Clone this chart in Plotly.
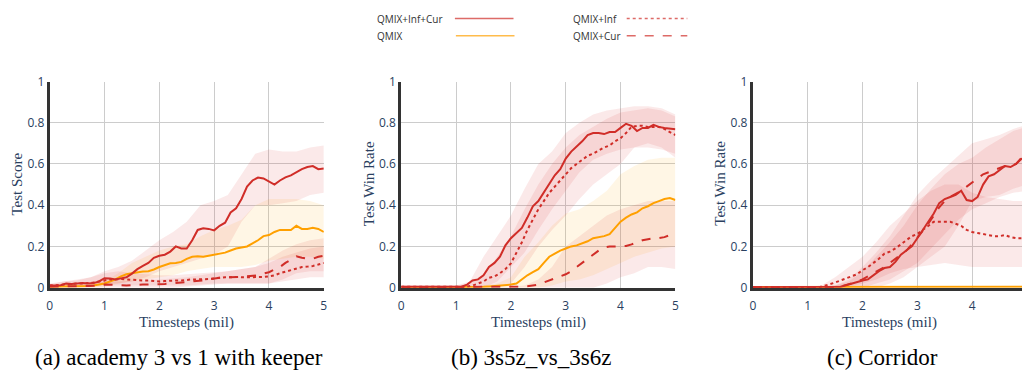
import numpy as np
import plotly.graph_objects as go

# ---------------- data ----------------
X = [round(0.1 * i, 1) for i in range(51)]          # timesteps (mil), mean curves
XB = [round(0.25 * i, 2) for i in range(21)]        # timesteps (mil), band edges

SERIES = ["QMIX+Inf+Cur", "QMIX", "QMIX+Inf", "QMIX+Cur"]
PANEL_TITLES = ["(a) academy 3 vs 1 with keeper", "(b) 3s5z_vs_3s6z", "(c) Corridor"]
Y_TITLES = ["Test Score", "Test Win Rate", "Test Win Rate"]
X_TITLE = "Timesteps (mil)"
Y_TICKS = [0, 0.2, 0.4, 0.6, 0.8, 1]
X_TICKS = [0, 1, 2, 3, 4, 5]

# ---- panel (a) academy 3 vs 1 with keeper ----
A_infcur = [0.01, 0.01, 0.012, 0.02, 0.018, 0.02, 0.022, 0.02, 0.022, 0.03,
            0.046, 0.045, 0.04, 0.045, 0.05, 0.068, 0.09, 0.106, 0.12, 0.145,
            0.155, 0.16, 0.175, 0.2, 0.19, 0.19, 0.23, 0.28, 0.288, 0.285,
            0.278, 0.3, 0.315, 0.365, 0.385, 0.43, 0.49, 0.52, 0.534, 0.53,
            0.515, 0.5, 0.52, 0.535, 0.545, 0.56, 0.575, 0.585, 0.59, 0.575, 0.578]
A_qmix = [0.005, 0.005, 0.005, 0.005, 0.005, 0.006, 0.007, 0.008, 0.01, 0.015,
          0.02, 0.03, 0.04, 0.055, 0.065, 0.07, 0.075, 0.078, 0.08, 0.088,
          0.1, 0.11, 0.118, 0.12, 0.125, 0.14, 0.15, 0.152, 0.15, 0.155,
          0.16, 0.162, 0.17, 0.18, 0.19, 0.195, 0.2, 0.215, 0.23, 0.25,
          0.255, 0.27, 0.28, 0.28, 0.28, 0.3, 0.285, 0.285, 0.29, 0.285, 0.27]
A_inf = [0.01, 0.012, 0.015, 0.018, 0.02, 0.02, 0.02, 0.022, 0.025, 0.03,
         0.035, 0.04, 0.04, 0.042, 0.04, 0.038, 0.035, 0.035, 0.035, 0.032,
         0.03, 0.032, 0.035, 0.035, 0.035, 0.038, 0.04, 0.04, 0.04, 0.042,
         0.045, 0.048, 0.05, 0.05, 0.052, 0.05, 0.05, 0.05, 0.05, 0.052,
         0.055, 0.06, 0.07, 0.078, 0.085, 0.092, 0.1, 0.102, 0.105, 0.112, 0.12]
A_cur = [0.005, 0.005, 0.005, 0.006, 0.006, 0.007, 0.008, 0.008, 0.009, 0.01,
         0.015, 0.015, 0.015, 0.012, 0.01, 0.012, 0.015, 0.015, 0.015, 0.015,
         0.015, 0.018, 0.02, 0.022, 0.025, 0.028, 0.03, 0.032, 0.035, 0.04,
         0.045, 0.048, 0.05, 0.05, 0.05, 0.052, 0.055, 0.058, 0.06, 0.068,
         0.075, 0.088, 0.1, 0.12, 0.135, 0.152, 0.145, 0.14, 0.14, 0.15, 0.155]
A_infcur_hi = [0.015, 0.03, 0.04, 0.05, 0.08, 0.1, 0.13, 0.18, 0.23, 0.27, 0.32,
               0.4, 0.42, 0.45, 0.55, 0.65, 0.67, 0.66, 0.66, 0.68, 0.69]
A_infcur_lo = [0.0, 0.005, 0.01, 0.01, 0.02, 0.02, 0.03, 0.05, 0.08, 0.1, 0.12,
               0.14, 0.16, 0.2, 0.32, 0.4, 0.4, 0.41, 0.42, 0.45, 0.46]
A_qmix_hi = [0.008, 0.01, 0.012, 0.02, 0.03, 0.07, 0.12, 0.15, 0.18, 0.2, 0.21,
             0.25, 0.28, 0.3, 0.33, 0.4, 0.43, 0.43, 0.43, 0.42, 0.4]
A_qmix_lo = [0.0, 0.0, 0.0, 0.0, 0.005, 0.02, 0.03, 0.04, 0.05, 0.06, 0.08,
             0.09, 0.1, 0.1, 0.1, 0.11, 0.13, 0.14, 0.15, 0.15, 0.14]
A_inf_hi = [0.02, 0.03, 0.035, 0.05, 0.07, 0.08, 0.07, 0.065, 0.06, 0.06, 0.065,
            0.07, 0.075, 0.08, 0.09, 0.1, 0.12, 0.15, 0.17, 0.19, 0.2]
A_inf_lo = [0.0, 0.005, 0.005, 0.005, 0.01, 0.01, 0.01, 0.01, 0.01, 0.01, 0.01,
            0.015, 0.02, 0.02, 0.02, 0.02, 0.02, 0.03, 0.04, 0.05, 0.05]
A_cur_hi = [0.01, 0.012, 0.015, 0.015, 0.03, 0.03, 0.035, 0.035, 0.04, 0.045, 0.05,
            0.06, 0.07, 0.08, 0.09, 0.1, 0.14, 0.18, 0.21, 0.23, 0.24]
A_cur_lo = [0.0, 0.0, 0.0, 0.0, 0.0, 0.0, 0.0, 0.0, 0.0, 0.0, 0.005,
            0.01, 0.015, 0.02, 0.02, 0.02, 0.02, 0.04, 0.07, 0.08, 0.08]

# ---- panel (b) 3s5z_vs_3s6z ----
B_infcur = [0.005, 0.005, 0.005, 0.005, 0.005, 0.005, 0.005, 0.005, 0.005, 0.005,
            0.005, 0.005, 0.015, 0.035, 0.04, 0.06, 0.1, 0.12, 0.15, 0.205,
            0.24, 0.265, 0.29, 0.34, 0.395, 0.42, 0.46, 0.5, 0.545, 0.575,
            0.626, 0.66, 0.685, 0.71, 0.74, 0.75, 0.75, 0.745, 0.755, 0.755,
            0.775, 0.795, 0.785, 0.76, 0.775, 0.775, 0.79, 0.78, 0.775, 0.77, 0.768]
B_qmix = [0.002, 0.002, 0.002, 0.002, 0.002, 0.002, 0.002, 0.002, 0.002, 0.002,
          0.002, 0.002, 0.002, 0.002, 0.002, 0.004, 0.006, 0.008, 0.01, 0.012,
          0.015, 0.02, 0.04, 0.06, 0.075, 0.09, 0.12, 0.15, 0.165, 0.18,
          0.19, 0.2, 0.205, 0.215, 0.225, 0.24, 0.245, 0.25, 0.26, 0.29,
          0.32, 0.34, 0.355, 0.365, 0.385, 0.395, 0.41, 0.42, 0.43, 0.435, 0.425]
B_inf = [0.005, 0.005, 0.005, 0.005, 0.005, 0.005, 0.005, 0.005, 0.005, 0.005,
         0.005, 0.005, 0.005, 0.01, 0.02, 0.03, 0.048, 0.055, 0.07, 0.09,
         0.118, 0.17, 0.22, 0.28, 0.33, 0.38, 0.42, 0.46, 0.49, 0.52,
         0.55, 0.58, 0.6, 0.62, 0.64, 0.65, 0.665, 0.68, 0.69, 0.71,
         0.725, 0.75, 0.78, 0.785, 0.785, 0.78, 0.78, 0.78, 0.77, 0.755, 0.74]
B_cur = [0.002, 0.002, 0.002, 0.002, 0.002, 0.002, 0.002, 0.002, 0.002, 0.002,
         0.002, 0.002, 0.002, 0.002, 0.002, 0.002, 0.002, 0.002, 0.002, 0.002,
         0.002, 0.003, 0.005, 0.007, 0.01, 0.015, 0.025, 0.035, 0.045, 0.055,
         0.065, 0.08, 0.1, 0.12, 0.14, 0.16, 0.18, 0.195, 0.2, 0.2,
         0.2, 0.202, 0.21, 0.22, 0.23, 0.235, 0.24, 0.24, 0.245, 0.255, 0.25]
B_infcur_hi = [0.01, 0.01, 0.01, 0.01, 0.01, 0.03, 0.15, 0.25, 0.35, 0.48, 0.6,
               0.66, 0.75, 0.8, 0.84, 0.86, 0.87, 0.88, 0.88, 0.87, 0.84]
B_infcur_lo = [0.0, 0.0, 0.0, 0.0, 0.0, 0.0, 0.0, 0.03, 0.1, 0.17, 0.28,
               0.38, 0.47, 0.56, 0.62, 0.65, 0.67, 0.68, 0.68, 0.67, 0.65]
B_qmix_hi = [0.005, 0.005, 0.005, 0.005, 0.005, 0.005, 0.01, 0.02, 0.05, 0.15, 0.22,
             0.3, 0.36, 0.38, 0.42, 0.47, 0.55, 0.59, 0.62, 0.63, 0.63]
B_qmix_lo = [0.0, 0.0, 0.0, 0.0, 0.0, 0.0, 0.0, 0.0, 0.0, 0.0, 0.0,
             0.01, 0.03, 0.04, 0.06, 0.09, 0.12, 0.15, 0.17, 0.19, 0.2]
B_inf_hi = [0.01, 0.01, 0.01, 0.01, 0.01, 0.02, 0.06, 0.15, 0.25, 0.38, 0.5,
            0.6, 0.68, 0.74, 0.78, 0.82, 0.85, 0.86, 0.87, 0.86, 0.83]
B_inf_lo = [0.0, 0.0, 0.0, 0.0, 0.0, 0.0, 0.0, 0.0, 0.02, 0.1, 0.2,
            0.28, 0.35, 0.43, 0.5, 0.55, 0.6, 0.68, 0.7, 0.68, 0.63]
B_cur_hi = [0.005, 0.005, 0.005, 0.005, 0.005, 0.005, 0.005, 0.005, 0.005, 0.01, 0.04,
            0.1, 0.2, 0.25, 0.3, 0.35, 0.38, 0.4, 0.42, 0.42, 0.42]
B_cur_lo = [0.0, 0.0, 0.0, 0.0, 0.0, 0.0, 0.0, 0.0, 0.0, 0.0, 0.0,
            0.0, 0.0, 0.0, 0.0, 0.02, 0.05, 0.07, 0.1, 0.1, 0.09]

# ---- panel (c) Corridor ----
C_infcur = [0.002, 0.002, 0.002, 0.002, 0.002, 0.002, 0.002, 0.002, 0.002, 0.002,
            0.002, 0.002, 0.002, 0.002, 0.002, 0.002, 0.005, 0.012, 0.02, 0.03,
            0.035, 0.04, 0.06, 0.08, 0.095, 0.1, 0.125, 0.16, 0.18, 0.2,
            0.24, 0.28, 0.32, 0.36, 0.41, 0.43, 0.44, 0.45, 0.47, 0.425,
            0.42, 0.44, 0.5, 0.54, 0.55, 0.57, 0.59, 0.585, 0.6, 0.625, 0.63]
C_qmix = [0.003, 0.003, 0.003, 0.003, 0.003, 0.003, 0.003, 0.003, 0.003, 0.003,
          0.003, 0.003, 0.003, 0.003, 0.003, 0.003, 0.003, 0.003, 0.003, 0.003,
          0.004, 0.004, 0.004, 0.004, 0.004, 0.004, 0.004, 0.004, 0.004, 0.004,
          0.004, 0.004, 0.004, 0.004, 0.004, 0.004, 0.004, 0.004, 0.004, 0.004,
          0.004, 0.004, 0.004, 0.004, 0.004, 0.004, 0.004, 0.004, 0.004, 0.004, 0.004]
C_inf = [0.002, 0.002, 0.002, 0.002, 0.002, 0.002, 0.002, 0.002, 0.002, 0.002,
         0.002, 0.002, 0.002, 0.008, 0.015, 0.025, 0.035, 0.045, 0.055, 0.065,
         0.085, 0.1, 0.12, 0.14, 0.165, 0.175, 0.19, 0.21, 0.23, 0.25,
         0.26, 0.28, 0.3, 0.32, 0.32, 0.32, 0.32, 0.31, 0.3, 0.28,
         0.27, 0.265, 0.26, 0.255, 0.25, 0.25, 0.255, 0.245, 0.24, 0.24, 0.24]
C_cur = [0.002, 0.002, 0.002, 0.002, 0.002, 0.002, 0.002, 0.002, 0.002, 0.002,
         0.002, 0.002, 0.002, 0.002, 0.002, 0.002, 0.006, 0.012, 0.02, 0.03,
         0.04, 0.055, 0.07, 0.085, 0.1, 0.12, 0.14, 0.16, 0.18, 0.21,
         0.24, 0.275, 0.31, 0.35, 0.39, 0.42, 0.44, 0.455, 0.47, 0.49,
         0.51, 0.53, 0.55, 0.56, 0.57, 0.58, 0.59, 0.595, 0.6, 0.63, 0.635]
C_infcur_hi = [0.005, 0.005, 0.005, 0.005, 0.005, 0.005, 0.01, 0.03, 0.08, 0.15, 0.22,
               0.3, 0.4, 0.48, 0.55, 0.6, 0.63, 0.68, 0.72, 0.76, 0.78]
C_infcur_lo = [0.0, 0.0, 0.0, 0.0, 0.0, 0.0, 0.0, 0.0, 0.0, 0.02, 0.04,
               0.08, 0.12, 0.19, 0.26, 0.33, 0.38, 0.41, 0.44, 0.46, 0.47]
C_qmix_hi = [0.006, 0.006, 0.006, 0.006, 0.006, 0.006, 0.006, 0.006, 0.007, 0.007, 0.007,
             0.007, 0.007, 0.007, 0.007, 0.007, 0.007, 0.007, 0.007, 0.007, 0.007]
C_qmix_lo = [0.0, 0.0, 0.0, 0.0, 0.0, 0.0, 0.0, 0.0, 0.0, 0.0, 0.0,
             0.0, 0.0, 0.0, 0.0, 0.0, 0.0, 0.0, 0.0, 0.0, 0.0]
C_inf_hi = [0.005, 0.005, 0.005, 0.005, 0.005, 0.01, 0.05, 0.1, 0.15, 0.22, 0.3,
            0.36, 0.42, 0.47, 0.5, 0.5, 0.46, 0.44, 0.43, 0.42, 0.42]
C_inf_lo = [0.0, 0.0, 0.0, 0.0, 0.0, 0.0, 0.0, 0.005, 0.02, 0.04, 0.07,
            0.09, 0.1, 0.11, 0.12, 0.11, 0.1, 0.1, 0.1, 0.1, 0.1]
C_cur_hi = [0.005, 0.005, 0.005, 0.005, 0.005, 0.005, 0.01, 0.04, 0.1, 0.17, 0.25,
            0.35, 0.45, 0.52, 0.58, 0.64, 0.7, 0.72, 0.74, 0.77, 0.79]
C_cur_lo = [0.0, 0.0, 0.0, 0.0, 0.0, 0.0, 0.0, 0.0, 0.0, 0.0, 0.02,
            0.05, 0.1, 0.15, 0.2, 0.3, 0.42, 0.44, 0.45, 0.48, 0.5]

PANELS = [
    {"QMIX+Inf+Cur": (A_infcur, A_infcur_lo, A_infcur_hi), "QMIX": (A_qmix, A_qmix_lo, A_qmix_hi),
     "QMIX+Inf": (A_inf, A_inf_lo, A_inf_hi), "QMIX+Cur": (A_cur, A_cur_lo, A_cur_hi)},
    {"QMIX+Inf+Cur": (B_infcur, B_infcur_lo, B_infcur_hi), "QMIX": (B_qmix, B_qmix_lo, B_qmix_hi),
     "QMIX+Inf": (B_inf, B_inf_lo, B_inf_hi), "QMIX+Cur": (B_cur, B_cur_lo, B_cur_hi)},
    {"QMIX+Inf+Cur": (C_infcur, C_infcur_lo, C_infcur_hi), "QMIX": (C_qmix, C_qmix_lo, C_qmix_hi),
     "QMIX+Inf": (C_inf, C_inf_lo, C_inf_hi), "QMIX+Cur": (C_cur, C_cur_lo, C_cur_hi)},
]

# ---------------- style ----------------
W, H = 1026, 372
RED = "rgb(208,45,40)"
ORANGE = "rgb(255,160,0)"
STYLE = {
    "QMIX+Inf+Cur": dict(color=RED, dash="solid", fill="rgba(214,40,40,0.10)"),
    "QMIX": dict(color=ORANGE, dash="solid", fill="rgba(255,165,0,0.10)"),
    "QMIX+Inf": dict(color=RED, dash="dot", fill="rgba(214,40,40,0.10)"),
    "QMIX+Cur": dict(color=RED, dash="dash", fill="rgba(214,40,40,0.10)"),
}
DRAW_ORDER = ["QMIX", "QMIX+Cur", "QMIX+Inf", "QMIX+Inf+Cur"]

# panel pixel geometry
PX_LEFT = [47, 401, 755]
PX_W = 276
PLOT_TOP, PLOT_BOT = 76, 292
X_RANGES = [[0, 5], [0, 5], [0, (W - 755) / (PX_W / 5)]]
CAPTION_X = [177, 532, 886]

def fx(px):
    return px / W

def fy(py):
    return 1 - py / H

fig = go.Figure()
for i, panel in enumerate(PANELS):
    xa = "x" if i == 0 else f"x{i+1}"
    ya = "y" if i == 0 else f"y{i+1}"
    for name in DRAW_ORDER:
        mean, lo, hi = panel[name]
        st = STYLE[name]
        fig.add_trace(go.Scatter(
            x=XB + XB[::-1], y=hi + lo[::-1], fill="toself", fillcolor=st["fill"],
            line=dict(width=0), mode="lines", hoverinfo="skip", showlegend=False,
            xaxis=xa, yaxis=ya))
    for name in DRAW_ORDER:
        mean, lo, hi = panel[name]
        st = STYLE[name]
        fig.add_trace(go.Scatter(
            x=X, y=mean, mode="lines", name=name, showlegend=False,
            line=dict(color=st["color"], width=2, dash=st["dash"]),
            xaxis=xa, yaxis=ya))

layout = dict(
    width=W, height=H, margin=dict(l=0, r=0, t=0, b=0),
    paper_bgcolor="white", plot_bgcolor="white", showlegend=False,
)
tickfont = dict(family="Open Sans, Noto Sans, sans-serif", size=12, color="#2a3f5f")
annotations = []
shapes = []
for i in range(3):
    sx = "" if i == 0 else str(i + 1)
    x0 = PX_LEFT[i]
    x1 = min(W, x0 + PX_W)
    layout["xaxis" + sx] = dict(
        domain=[fx(x0), fx(x1)], range=X_RANGES[i], anchor="y" + sx,
        tickvals=X_TICKS, showgrid=True, gridcolor="#cccccc", gridwidth=1,
        showline=True, linecolor="#333333", linewidth=3, zeroline=False,
        ticks="", tickfont=tickfont, ticklabelstandoff=5, fixedrange=True)
    layout["yaxis" + sx] = dict(
        domain=[fy(PLOT_BOT), fy(PLOT_TOP)], range=[0, 1], anchor="x" + sx,
        tickvals=Y_TICKS, showgrid=True, gridcolor="#cccccc", gridwidth=1,
        showline=True, linecolor="#333333", linewidth=3, zeroline=False,
        ticks="", tickfont=tickfont, fixedrange=True)
    # axis titles
    annotations.append(dict(
        text=X_TITLE, xref="paper", yref="paper", x=fx(x0 + PX_W / 2), y=fy(328),
        xanchor="center", yanchor="middle", showarrow=False,
        font=dict(family="Liberation Serif, Times New Roman, serif", size=15, color="#2a3f5f")))
    annotations.append(dict(
        text=Y_TITLES[i], xref="paper", yref="paper", x=fx(x0 - 33), y=fy(183),
        xanchor="center", yanchor="middle", showarrow=False, textangle=-90,
        font=dict(family="Liberation Serif, Times New Roman, serif", size=15, color="#2a3f5f")))
    # captions
    annotations.append(dict(
        text=PANEL_TITLES[i], xref="paper", yref="paper", x=fx(CAPTION_X[i]), y=fy(365),
        xanchor="center", yanchor="middle", showarrow=False,
        font=dict(family="Liberation Serif, Times New Roman, serif", size=23, color="black")))

# legend (text left, line sample right)
LEG = [
    ("QMIX+Inf+Cur", 375, 10, 455, 514),
    ("QMIX", 375, 28, 456, 515),
    ("QMIX+Inf", 572, 10, 628, 689),
    ("QMIX+Cur", 572, 28, 628, 689),
]
for name, tx, ty, lx0, lx1 in LEG:
    st = STYLE[name]
    annotations.append(dict(
        text=name, xref="paper", yref="paper", x=fx(tx), y=fy(ty),
        xanchor="left", yanchor="middle", showarrow=False,
        font=dict(family="Open Sans, Noto Sans, sans-serif", size=10, color="#333333")))
    shapes.append(dict(
        type="line", xref="paper", yref="paper", x0=fx(lx0), x1=fx(lx1), y0=fy(ty), y1=fy(ty),
        line=dict(color=st["color"], width=1.5, dash=st["dash"]), opacity=0.7))

layout["annotations"] = annotations
layout["shapes"] = shapes
fig.update_layout(**layout)
fig.write_html("out.html")
